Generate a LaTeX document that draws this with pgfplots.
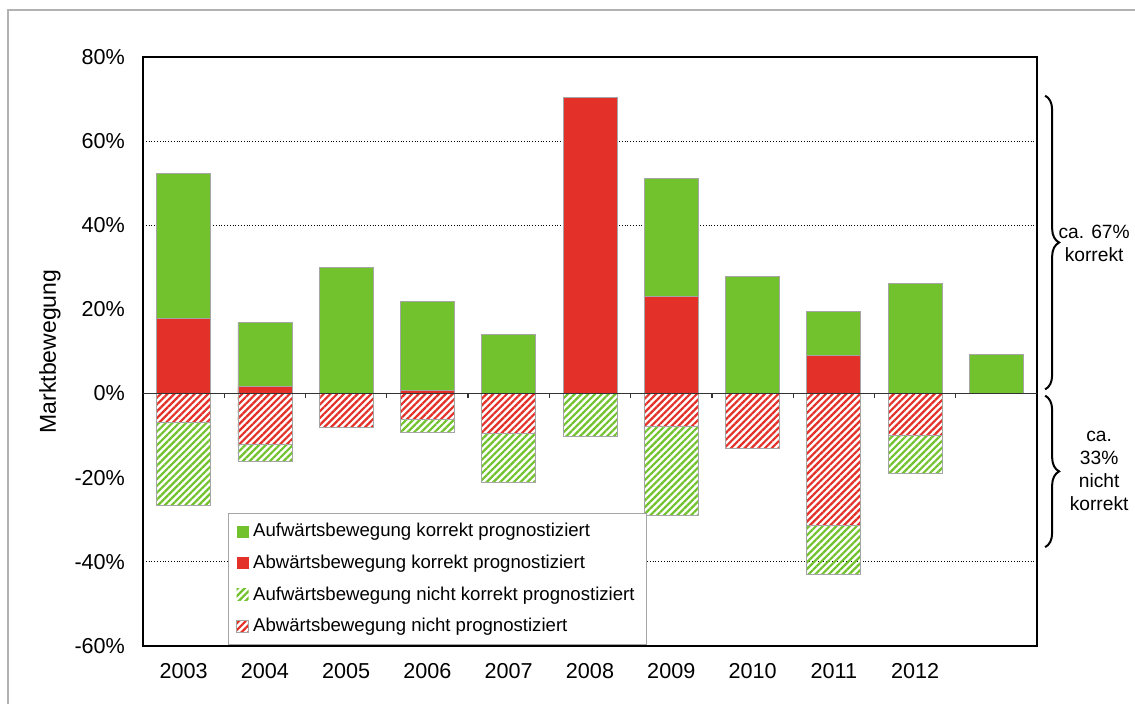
\documentclass[border=0pt]{standalone}
\usepackage{pgfplots}
\pgfplotsset{compat=1.18}
\usepackage{fontspec}
\setmainfont{Liberation Sans}
\usetikzlibrary{patterns.meta,decorations.pathreplacing}
\definecolor{cgreen}{RGB}{114,194,46}
\definecolor{cred}{RGB}{227,48,40}
\definecolor{cedge}{RGB}{165,165,165}
\begin{document}
\begin{tikzpicture}
\begin{axis}[
  at={(0pt,0pt)}, anchor=south west,
  scale only axis, width=447pt, height=294.5pt,
  clip=false,
  font=\fontsize{10.8}{13}\selectfont,
  xmin=0.5, xmax=11.5, ymin=-60, ymax=80,
  ybar, bar width=27pt,
  xtick={1,...,10},
  xticklabels={2003,2004,2005,2006,2007,2008,2009,2010,2011,2012},
  x tick label style={yshift=-1pt},
  major x tick style={draw=none},
  ytick={-60,-40,...,80},
  yticklabel={\pgfmathprintnumber{\tick}\%},
  /pgf/number format/assume math mode=true,
  major y tick style={draw=none},
  y tick label style={xshift=-5.5pt},
  extra y ticks={-40,0,40,60},
  extra y tick labels={},
  extra y tick style={ymajorgrids=true, tick align=outside, major tick length=4pt, major tick style={draw=black, thin}},
  major grid style={black, densely dotted, line width=0.5pt},
  axis line style={black, line width=0.6pt},
  ylabel={Marktbewegung},
  y label style={at={(axis description cs:-0.104,0.5)}, anchor=center, font=\fontsize{11.5}{13}\selectfont},
  legend style={at={(rel axis cs:0.095,0.226)}, anchor=north west, draw=cedge, fill=white,
    font=\fontsize{9.3}{11.5}\selectfont, row sep=3.6pt, inner xsep=4pt, inner ysep=3pt},
  legend cell align=left,
  legend image code/.code={\draw[#1, draw=none] (0pt,-3pt) rectangle (6pt,3pt);},
]
% positive: total (green top)
\addplot[fill=cgreen, draw=cedge, line width=0.4pt, bar shift=0pt] coordinates {
 (1,52.3) (2,16.9) (3,29.9) (4,21.8) (5,14.0) (7,51.1) (8,27.8) (9,19.5) (10,26.1) (11,9.3)};
\addlegendentry{Aufwärtsbewegung korrekt prognostiziert}
% positive: red part
\addplot[fill=cred, draw=cedge, line width=0.4pt, bar shift=0pt] coordinates {
 (1,17.8) (2,1.7) (4,0.8) (6,70.3) (7,23.0) (9,9.0)};
\addlegendentry{Abwärtsbewegung korrekt prognostiziert}
% negative: total (green hatched bottom)
\addplot[draw=cedge, line width=0.4pt, bar shift=0pt,
  pattern={Lines[angle=45,distance=2.4pt,line width=1.1pt]}, pattern color=cgreen] coordinates {
 (1,-26.6) (2,-16.2) (4,-9.3) (5,-21.1) (6,-10.1) (7,-28.9) (9,-43.0) (10,-19.0)};
\addlegendentry{Aufwärtsbewegung nicht korrekt prognostiziert}
% negative: red hatched part
\addplot[fill=white, postaction={pattern={Lines[angle=45,distance=2.4pt,line width=1.1pt]}, pattern color=cred},
  draw=cedge, line width=0.4pt, bar shift=0pt] coordinates {
 (1,-6.9) (2,-12.0) (3,-8.1) (4,-6.2) (5,-9.5) (7,-7.8) (8,-13.1) (9,-31.3) (10,-10.0)};
\addlegendentry{Abwärtsbewegung nicht prognostiziert}
% zero line and category ticks
\draw[black!80, line width=0.8pt] (axis cs:0.5,0) -- (axis cs:11.5,0);
\pgfplotsinvokeforeach{1.5,2.5,3.5,4.5,5.5,6.5,7.5,8.5,9.5,10.5}{
  \draw[black!80, line width=0.6pt] (axis cs:#1,0) -- (axis cs:#1,-1.0);
}
% braces
\draw[decorate, decoration={brace, amplitude=7pt}, line width=1pt]
  (axis cs:11.6,70.8) -- (axis cs:11.6,1.0);
\draw[decorate, decoration={brace, amplitude=7pt}, line width=1pt]
  (axis cs:11.6,-0.5) -- (axis cs:11.6,-36.5);
\node[align=center, font=\fontsize{9.6}{11.5}\selectfont, anchor=center] at (axis cs:11.6,35.8) [xshift=24.5pt] {ca. 67\%\\korrekt};
\node[align=center, font=\fontsize{9.6}{11.5}\selectfont, anchor=center] at (axis cs:11.6,-18.3) [xshift=27pt] {ca.\\33\%\\nicht\\korrekt};
\end{axis}
\draw[gray!60, line width=1pt] (-67.5pt,-40pt) -- (-67.5pt,318pt) -- (520pt,318pt);
\pgfresetboundingbox
\path (-71.5pt,-29pt) rectangle (496pt,323pt);
\end{tikzpicture}
\end{document}
